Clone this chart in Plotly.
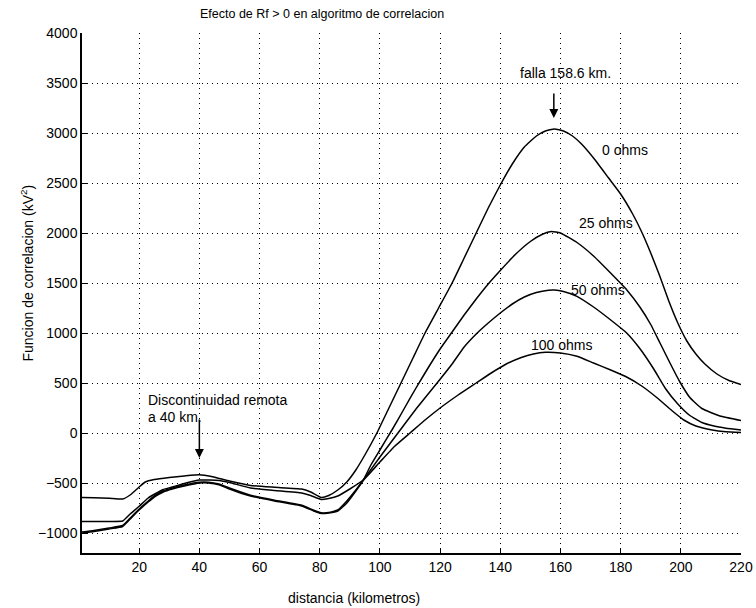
import plotly.graph_objects as go

# distance (km) and correlation (kV^2)
x_0 = [1, 5, 10, 14.5, 17, 20, 22, 25, 30, 35, 40, 44, 50, 57, 65, 74, 77, 80.5, 83, 86, 89, 92, 95, 99,
       103, 107, 111, 115, 119.5, 124, 128, 132, 136, 140, 144, 148, 152, 155, 158, 161, 164, 167, 171,
       176, 180, 184, 187, 190, 193, 196, 199, 202, 205, 208, 212, 216, 220]
y_0 = [-645, -648, -652, -660, -620, -540, -490, -465, -445, -430, -418, -435, -480, -525, -543, -560, -590,
       -645, -625, -570, -490, -370, -220, 0, 250, 500, 750, 1000, 1250, 1500, 1750, 2000, 2250, 2480, 2690,
       2860, 2970, 3020, 3040, 3020, 2970, 2890, 2750, 2550, 2390, 2190, 2010, 1800, 1570, 1320, 1100, 920,
       790, 690, 590, 525, 485]

x_25 = [1, 5, 10, 14.5, 17, 20, 23, 25.5, 28, 31, 35, 40, 43, 46.5, 50, 57, 65, 74, 78, 80.5, 83, 86, 89,
        92, 94.5, 97, 100, 104, 108, 112, 116, 120, 124, 128, 132, 136, 140, 145, 150, 154, 157, 160,
        165.5, 171, 176.5, 182, 186.5, 190, 193, 196.4, 199.7, 203, 207, 213, 220]
y_25 = [-1000, -985, -960, -935, -860, -770, -690, -630, -590, -560, -530, -500, -500, -517, -560, -630,
        -680, -730, -780, -805, -800, -780, -700, -580, -470, -320, -170, 30, 240, 450, 650, 840, 1010, 1180,
        1340, 1490, 1625, 1785, 1915, 1988, 2015, 2000, 1905, 1770, 1605, 1433, 1255, 1085, 905, 700, 510,
        355, 245, 170, 125]

x_50 = [1, 5, 10, 14.5, 17, 20, 23, 25.5, 28, 31, 35, 40, 43, 46.5, 50, 57, 65, 74, 78, 80.5, 83, 86, 89,
        92, 94.5, 100, 106, 112, 119, 124, 128, 132, 136, 140, 144, 148, 152, 156, 158, 161, 165.5, 171,
        176.5, 182, 186.5, 191, 195, 199, 203, 207, 211, 215, 220]
y_50 = [-990, -975, -950, -925, -850, -760, -680, -620, -580, -550, -520, -492, -492, -510, -550, -622,
        -672, -722, -772, -797, -795, -770, -680, -570, -470, -240, 0, 240, 500, 690, 860, 990, 1100, 1200,
        1290, 1360, 1405, 1428, 1430, 1415, 1367, 1260, 1135, 1000, 840, 640, 440, 290, 175, 105, 70, 48, 30]

x_100 = [1, 5, 10, 14.5, 17, 20, 23, 25.5, 28, 31, 35, 40, 46.5, 50, 57, 65, 74, 77, 80.5, 83, 86, 90,
         94.5, 100, 105, 110, 115, 120, 126, 132, 137, 142, 147, 151, 155, 160, 165.5, 171, 176.5, 182,
         187, 192, 197, 201, 205, 210, 215, 220]
y_100 = [-885, -885, -884, -880, -810, -733, -650, -605, -565, -540, -505, -470, -475, -495, -550, -575,
         -600, -625, -665, -655, -630, -560, -470, -290, -130, 0, 130, 250, 380, 500, 600, 690, 755, 790,
         807, 800, 767, 700, 633, 560, 470, 355, 225, 130, 70, 33, 12, 5]

series = [("0 ohms", x_0, y_0), ("25 ohms", x_25, y_25), ("50 ohms", x_50, y_50), ("100 ohms", x_100, y_100)]

FONT = "Liberation Sans, Arial, Helvetica, sans-serif"
FS = 14

fig = go.Figure()
for name, xs, ys in series:
    fig.add_trace(go.Scatter(x=xs, y=ys, mode="lines", name=name,
                             line=dict(color="black", width=1.5, shape="spline", smoothing=0.4)))

axis_common = dict(showgrid=True, gridcolor="black", gridwidth=1, griddash="1px,4px",
                   showline=True, linecolor="black", linewidth=1.5, ticks="inside", ticklen=5,
                   tickcolor="black", zeroline=False, automargin=False,
                   tickfont=dict(family=FONT, size=FS, color="black"))

fig.update_layout(
    template="none",
    width=756, height=608,
    margin=dict(l=82, r=15, t=33, b=55, autoexpand=False),
    plot_bgcolor="white", paper_bgcolor="white",
    showlegend=False,
    font=dict(family=FONT, size=FS, color="black"),
    xaxis=dict(range=[1, 220], tick0=0, dtick=20, **axis_common),
    yaxis=dict(range=[-1200, 4000], tick0=0, dtick=500, **axis_common),
)

def txt(x, y, t, size=FS, **kw):
    fig.add_annotation(x=x, y=y, text=t, showarrow=False, font=dict(family=FONT, size=size, color="black"), **kw)

# titles
txt(0.364, 1.0, "Efecto de Rf > 0 en algoritmo de correlacion", size=12.5, xref="paper", yref="paper",
    yanchor="middle", yshift=19)
txt(0.412, 0, "distancia (kilometros)", xref="paper", yref="paper", yanchor="middle", yshift=-45)
txt(-0.083, 0.538, "Funcion de correlacion (kV<sup>2</sup>)", xref="paper", yref="paper",
    textangle=-90, xanchor="center", yanchor="middle")

# curve labels
txt(161.6, 3600, "falla 158.6 km.")
txt(181.6, 2833, "0 ohms")
txt(175.2, 2100, "25 ohms")
txt(172.6, 1433, "50 ohms")
txt(160.3, 883, "100 ohms")
txt(22.3, 333, "Discontinuidad remota", xanchor="left")
txt(22.3, 163, "a 40 km.", xanchor="left")

# arrows
fig.add_annotation(x=157.8, y=3150, ax=0, ay=-26, text="", showarrow=True, arrowhead=2,
                   arrowsize=1.2, arrowwidth=1.5, arrowcolor="black")
fig.add_annotation(x=40, y=-250, ax=0, ay=-40, text="", showarrow=True, arrowhead=2,
                   arrowsize=1.2, arrowwidth=1.5, arrowcolor="black")

fig.write_html("out.html", config={"displayModeBar": False},
               post_script="document.body.style.margin='0';document.body.style.padding='0';")
